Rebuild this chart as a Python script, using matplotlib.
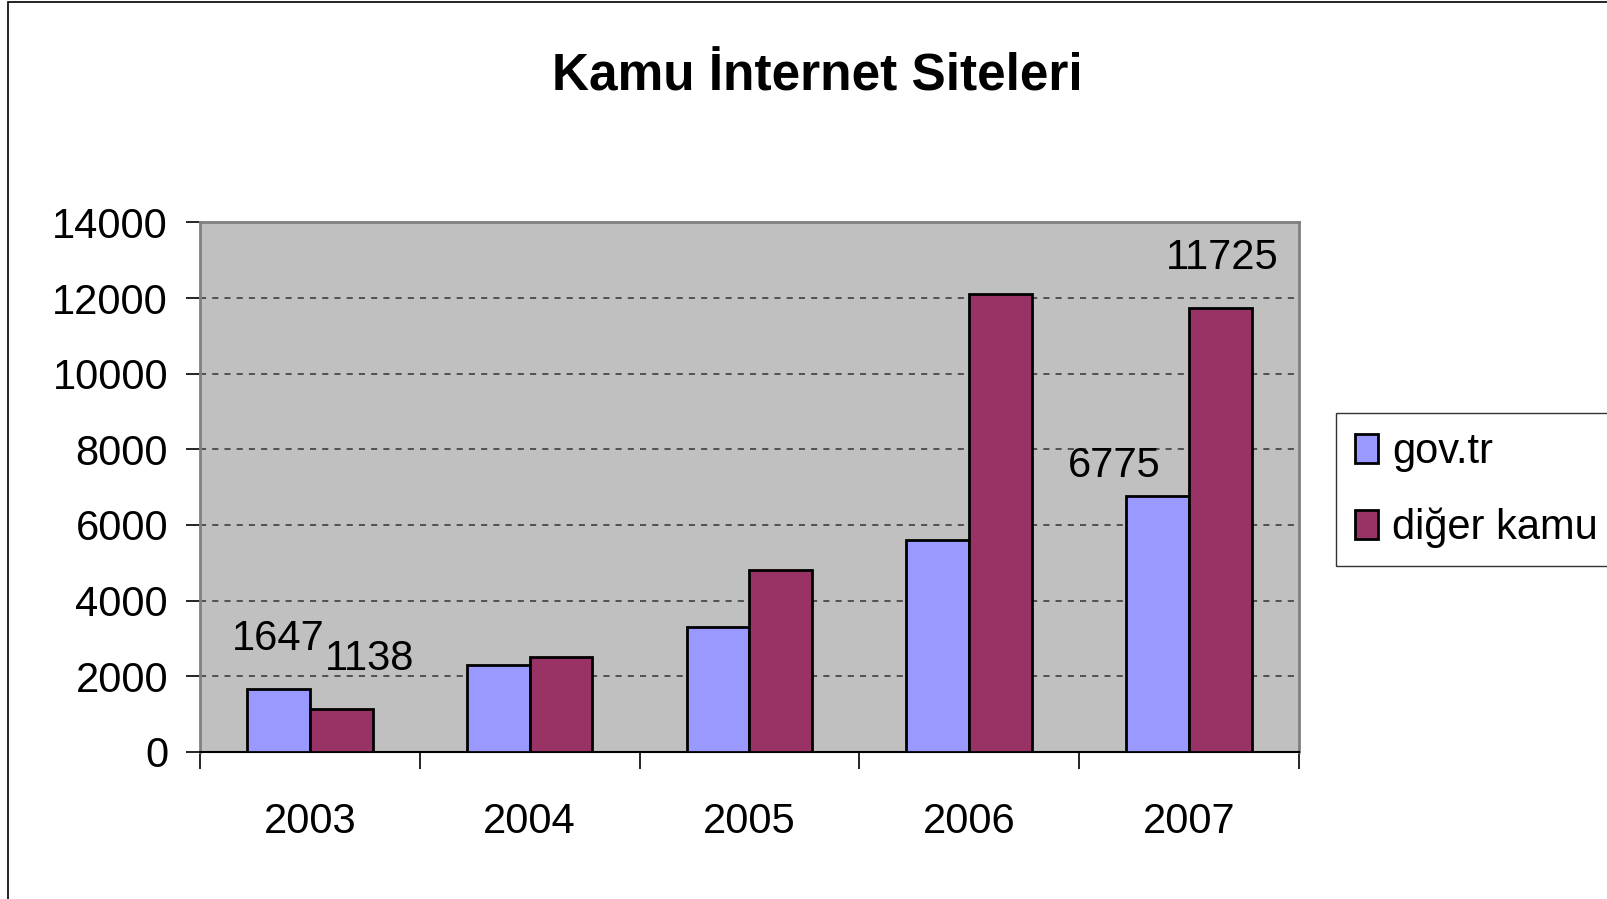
import matplotlib
matplotlib.use("Agg")
import matplotlib.pyplot as plt
from matplotlib.patches import Rectangle
import numpy as np
from matplotlib import font_manager

years = ["2003", "2004", "2005", "2006", "2007"]
gov_tr = [1647, 2300, 3300, 5600, 6775]
diger_kamu = [1138, 2500, 4800, 12100, 11725]
yticks = [0, 2000, 4000, 6000, 8000, 10000, 12000, 14000]
title = "Kamu İnternet Siteleri"
series_names = ["gov.tr", "diğer kamu"]

names = {f.name for f in font_manager.fontManager.ttflist}
fam = "Liberation Sans Narrow" if "Liberation Sans Narrow" in names else "Liberation Sans"
plt.rcParams['font.family'] = [fam, 'DejaVu Sans']

W, H = 1608, 899
fig = plt.figure(figsize=(W/100, H/100), dpi=100)
L, R, T, B = 200, 1299, 222.5, 751.7
ax = fig.add_axes([L/W, 1 - B/H, (R-L)/W, (B-T)/H])
ax.set_facecolor("#C0C0C0")

# outer frame
fig.patches.append(Rectangle((8/W, -0.1), 1.2, 1 - 2/H + 0.1, transform=fig.transFigure,
                             fill=False, edgecolor="#000000", lw=1.2))

x = np.arange(len(years))
w = 1/3.5
b1 = ax.bar(x - w/2, gov_tr, w, color="#9999FF", edgecolor="black", lw=2.0, zorder=3, label=series_names[0])
b2 = ax.bar(x + w/2, diger_kamu, w, color="#993366", edgecolor="black", lw=2.0, zorder=3, label=series_names[1])

ax.set_xlim(-0.5, len(years) - 0.5)
ax.set_ylim(0, 14000)
ax.set_yticks(yticks)
ax.set_yticklabels([str(v) for v in yticks], fontsize=30)
ax.yaxis.grid(True, linestyle=(0, (4, 4)), color="#333333", lw=1.1, zorder=1)
ax.set_axisbelow(True)
ax.set_xticks(x)
ax.set_xticklabels(years, fontsize=30)
ax.set_xticks(np.arange(len(years) + 1) - 0.5, minor=True)
ax.tick_params(axis='x', which='major', length=0, pad=36)
ax.tick_params(axis='x', which='minor', length=12, width=1.2, color="#000000", direction='out')
ax.tick_params(axis='y', length=10, width=1.2, direction='out', pad=13)
for s in ["top", "right"]:
    ax.spines[s].set_color("#808080")
    ax.spines[s].set_linewidth(2)
ax.spines["left"].set_color("#808080")
ax.spines["left"].set_linewidth(2)
ax.spines["bottom"].set_color("#000000")
ax.spines["bottom"].set_linewidth(1.5)

# data labels
ax.annotate(str(gov_tr[0]), (x[0] - w/2, gov_tr[0]), xytext=(0, 36), textcoords="offset points",
            ha="center", va="center", fontsize=30)
ax.annotate(str(diger_kamu[0]), (x[0] + w/2, diger_kamu[0]), xytext=(20, 36), textcoords="offset points",
            ha="center", va="center", fontsize=30)
ax.annotate(str(gov_tr[4]), (x[4] - w/2, gov_tr[4]), xytext=(-31, 21), textcoords="offset points",
            ha="center", va="center", fontsize=30)
ax.annotate(str(diger_kamu[4]), (x[4] + w/2, diger_kamu[4]), xytext=(1, 36), textcoords="offset points",
            ha="center", va="center", fontsize=30)

fig.text(817/W, 1 - 77/H, title, ha="center", va="center", fontsize=37, fontweight="bold")

leg = fig.legend(handles=[b1, b2], labels=series_names, loc="upper left",
                 bbox_to_anchor=(1336/W, 1 - 413/H), fontsize=30, frameon=True, fancybox=False,
                 borderpad=0.45, labelspacing=0.85, handlelength=0.55, handleheight=0.7,
                 handletextpad=0.35, borderaxespad=0)
leg.get_frame().set_edgecolor("#000000")
leg.get_frame().set_linewidth(1.0)

fig.savefig("out.png", dpi=100)
